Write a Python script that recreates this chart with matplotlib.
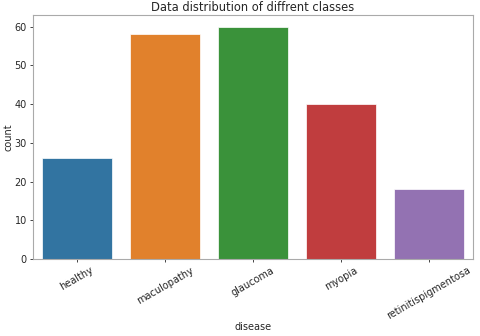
import matplotlib
matplotlib.use("Agg")
import matplotlib.pyplot as plt
import seaborn as sns

classes = ["healthy", "maculopathy", "glaucoma", "myopia", "retinitispigmentosa"]
counts = [26, 58, 60, 40, 18]

text_color = "#262626"
plt.rcParams['font.family'] = ['DejaVu Sans']

fig = plt.figure(figsize=(4.8, 3.36), dpi=100)
ax = fig.add_axes([0.069, 0.229, 0.916, 0.726])

colors = sns.color_palette(n_colors=len(classes), desat=0.75)
ax.bar(classes, counts, width=0.8, color=colors, edgecolor="white", linewidth=0.5)

ax.set_xlim(-0.5, len(classes) - 0.5)
ax.set_ylim(0, 63)
ax.set_yticks(range(0, 61, 10))

ax.set_title("Data distribution of diffrent classes", fontsize=8.3, color=text_color, pad=3)
ax.set_xlabel("disease", fontsize=7, color=text_color, labelpad=0.5)
ax.set_ylabel("count", fontsize=7, color=text_color, labelpad=1)
ax.tick_params(axis="both", labelsize=7, colors=text_color, length=2.5, width=0.6, pad=2)
plt.setp(ax.get_xticklabels(), rotation=30, ha="center")
for sp in ax.spines.values():
    sp.set_color("#aaaaaa")
    sp.set_linewidth(0.8)

fig.savefig("out.png", dpi=100)
